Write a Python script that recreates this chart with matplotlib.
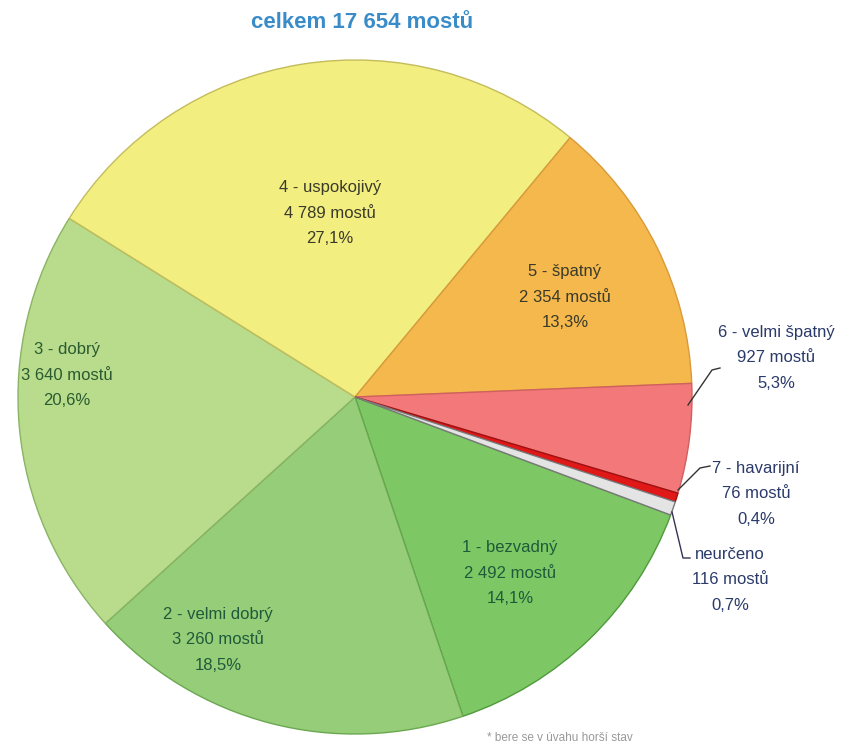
import matplotlib.pyplot as plt
from matplotlib import font_manager

# stav mostů podle klasifikace (počet mostů)
labels = ["1 - bezvadný", "2 - velmi dobrý", "3 - dobrý", "4 - uspokojivý",
          "5 - špatný", "6 - velmi špatný", "7 - havarijní", "neurčeno"]
counts = [2492, 3260, 3640, 4789, 2354, 927, 76, 116]
shares = ["14,1%", "18,5%", "20,6%", "27,1%", "13,3%", "5,3%", "0,4%", "0,7%"]
colors = ["#7dc864", "#96cd78", "#b8dc8c", "#f2ee80",
          "#f5b84c", "#f2787a", "#e01818", "#e4e4e4"]
edges = ["#4f9a3c", "#6aa850", "#8ab464", "#c4bc5c",
         "#d89a3a", "#d06060", "#a01010", "#7a7a7a"]

# úzké písmo, pokud je k dispozici
names = {f.name for f in font_manager.fontManager.ttflist}
narrow = [n for n in ("Liberation Sans Narrow", "DejaVu Sans Condensed") if n in names]
font = narrow + ["Liberation Sans", "DejaVu Sans"]
size = 13 if narrow else 12

W, H = 861, 746
fig = plt.figure(figsize=(W / 100, H / 100), dpi=100)
ax = fig.add_axes([0, 0, 1, 1])

cx, cy, r = 355, H - 397, 337

wedges, _ = ax.pie(counts, colors=colors, center=(cx, cy), radius=r,
                   startangle=-20.5, counterclock=False, frame=False,
                   wedgeprops=dict(linewidth=1.0))
for w, ec in zip(wedges, edges):
    w.set_edgecolor(ec)
ax.set_xlim(0, W)
ax.set_ylim(0, H)
ax.set_aspect("auto")
ax.axis("off")


def fmt(n):
    return f"{n:,}".replace(",", " ")


# popisky uvnitř výsečí
inner = {0: (510, 573, "#1f5a3a"), 1: (218, 640, "#1f5a3a"),
         2: (67, 375, "#2a5a30"), 3: (330, 213, "#3a3a2a"),
         4: (565, 297, "#3a3a2a")}
for i, (x, y, c) in inner.items():
    txt = f"{labels[i]}\n{fmt(counts[i])} mostů\n{shares[i]}"
    ax.text(x, H - y, txt, ha="center", va="center", fontsize=size,
            color=c, family=font, linespacing=1.9)

# popisky mimo koláč s odkazovými čarami
navy = "#2a3a6a"
outer = {5: (776, 358), 6: (756, 494), 7: (730, 580)}
for i, (x, y) in outer.items():
    txt = f"{labels[i]}\n{fmt(counts[i])} mostů\n{shares[i]}"
    ax.text(x, H - y, txt, ha="center", va="center", fontsize=size,
            color=navy, family=font, linespacing=1.9)

ax.plot([688, 712, 720], [H - 405, H - 370, H - 368], color="#333333", lw=1)
ax.plot([678, 700, 710], [H - 490, H - 468, H - 466], color="#333333", lw=1)
ax.plot([672, 683, 690], [H - 512, H - 558, H - 558], color="#333355", lw=1)

ax.text(362, H - 22, "celkem 17 654 mostů", ha="center", va="center",
        fontsize=16, fontweight="bold", color="#3a8cc8", family=font)
ax.text(560, H - 738, "* bere se v úvahu horší stav", ha="center",
        va="center", fontsize=8.5, color="#999999", family=font)

fig.savefig("out.png", dpi=100)
